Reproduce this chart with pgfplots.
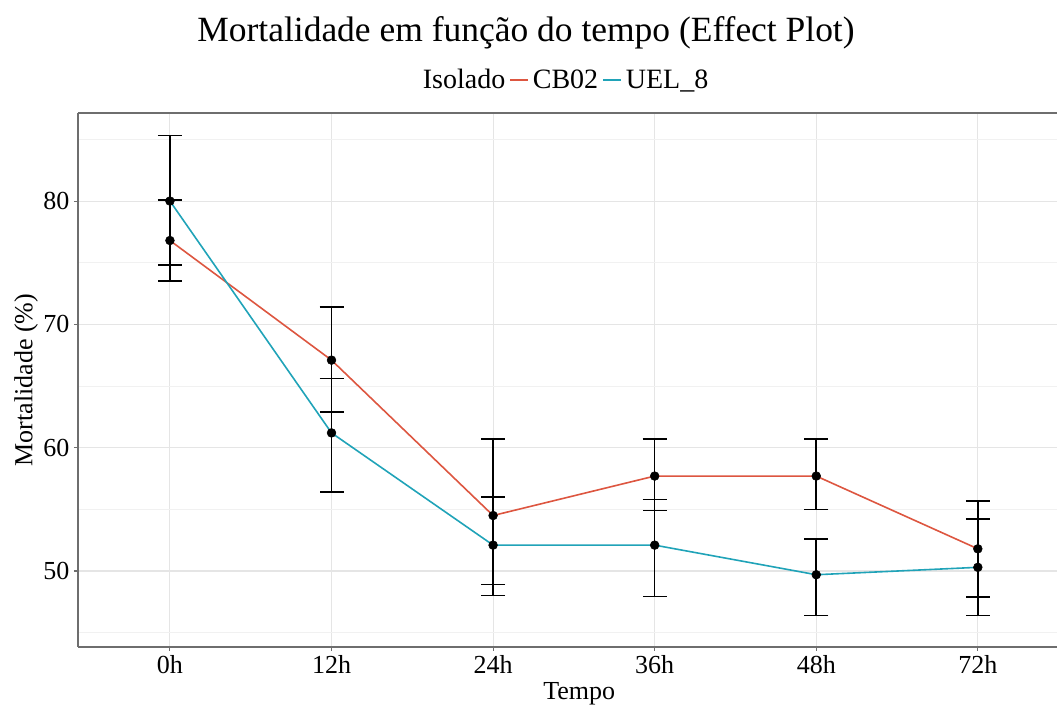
\documentclass[border=0pt]{standalone}
\usepackage{fontspec}
\setmainfont{Liberation Serif}
\usepackage{pgfplots}
\pgfplotsset{compat=1.18}
\usepackage{pgfplotstable}

\definecolor{cbred}{RGB}{221,86,64}
\definecolor{ueltea}{RGB}{32,163,184}
\definecolor{axgray}{RGB}{110,110,110}

\pgfplotstableread{
x y ep em
0 76.8 3.3 3.3
1 67.1 4.3 4.2
2 54.5 6.2 5.6
3 57.7 3.0 2.8
4 57.7 3.0 2.7
5 51.8 3.9 3.9
}\cbtab

\pgfplotstableread{
x y ep em
0 80.0 5.3 5.2
1 61.2 4.4 4.8
2 52.1 3.9 4.1
3 52.1 3.7 4.15
4 49.7 2.9 3.3
5 50.3 3.9 3.9
}\ueltab

\begin{document}
\begin{tikzpicture}
\begin{axis}[
  at={(0,0)}, anchor=south west,
  scale only axis, width=734.25pt, height=400.5pt,
  xmin=-0.569, xmax=5.49, ymin=43.84, ymax=87.14,
  xtick={0,...,5}, xticklabels={0h,12h,24h,36h,48h,72h},
  ytick={50,60,70,80}, minor ytick={45,55,65,75,85},
  grid=both,
  major grid style={gray!20, line width=0.8pt},
  minor grid style={gray!11, line width=0.6pt},
  axis x line*=box, axis y line*=left,
  axis line style={axgray, line width=0.9pt},
  tick align=outside, tick pos=left,
  major tick length=3pt, minor tick length=0pt,
  tick style={axgray, line width=0.8pt},
  /pgf/number format/assume math mode=true,
  ticklabel style={font=\fontsize{19.5}{23}\selectfont, text=black},
  xlabel={Tempo},
  xlabel style={at={(axis description cs:0.512,0)}, anchor=base, yshift=-39.5pt, font=\fontsize{19.5}{23}\selectfont},
  ylabel={Mortalidade (\%)},
  ylabel style={at={(axis description cs:0,0.5)}, anchor=center, yshift=39pt, font=\fontsize{19.5}{23}\selectfont},
  title={Mortalidade em função do tempo (Effect Plot)},
  every axis title shift=0pt,
  title style={at={(axis description cs:0.4576,1.133)}, anchor=base, font=\fontsize{26.6}{32}\selectfont},
  legend columns=-1,
  legend style={at={(axis description cs:0.497,1.062)}, anchor=center, draw=none, fill=none,
    font=\fontsize{21}{25}\selectfont, column sep=1.5pt, nodes={inner sep=1.5pt}},
  legend image code/.code={\draw[#1] (0pt,0pt) -- (13.5pt,0pt);},
]
\addplot[cbred, line width=1.2pt, forget plot] table[x=x,y=y]{\cbtab};
\addplot[ueltea, line width=1.2pt, forget plot] table[x=x,y=y]{\ueltab};

\addplot[only marks, mark=*, mark size=3.3pt, mark options={black, fill=black}, forget plot,
  error bars/.cd, y dir=both, y explicit,
  error bar style={black, line width=1.2pt},
  error mark options={rotate=90, mark size=9pt, line width=1.2pt, black}]
  table[x=x, y=y, y error plus=ep, y error minus=em]{\cbtab};
\addplot[only marks, mark=*, mark size=3.3pt, mark options={black, fill=black}, forget plot,
  error bars/.cd, y dir=both, y explicit,
  error bar style={black, line width=1.2pt},
  error mark options={rotate=90, mark size=9pt, line width=1.2pt, black}]
  table[x=x, y=y, y error plus=ep, y error minus=em]{\ueltab};

\addlegendimage{empty legend}\addlegendentry{Isolado}
\addlegendimage{cbred, line width=1.2pt}\addlegendentry{CB02}
\addlegendimage{ueltea, line width=1.2pt}\addlegendentry{UEL\_8}
\end{axis}
\pgfresetboundingbox
\path[use as bounding box] (-58.5pt,-44.25pt) rectangle (734.25pt,485.25pt);
\end{tikzpicture}
\end{document}
